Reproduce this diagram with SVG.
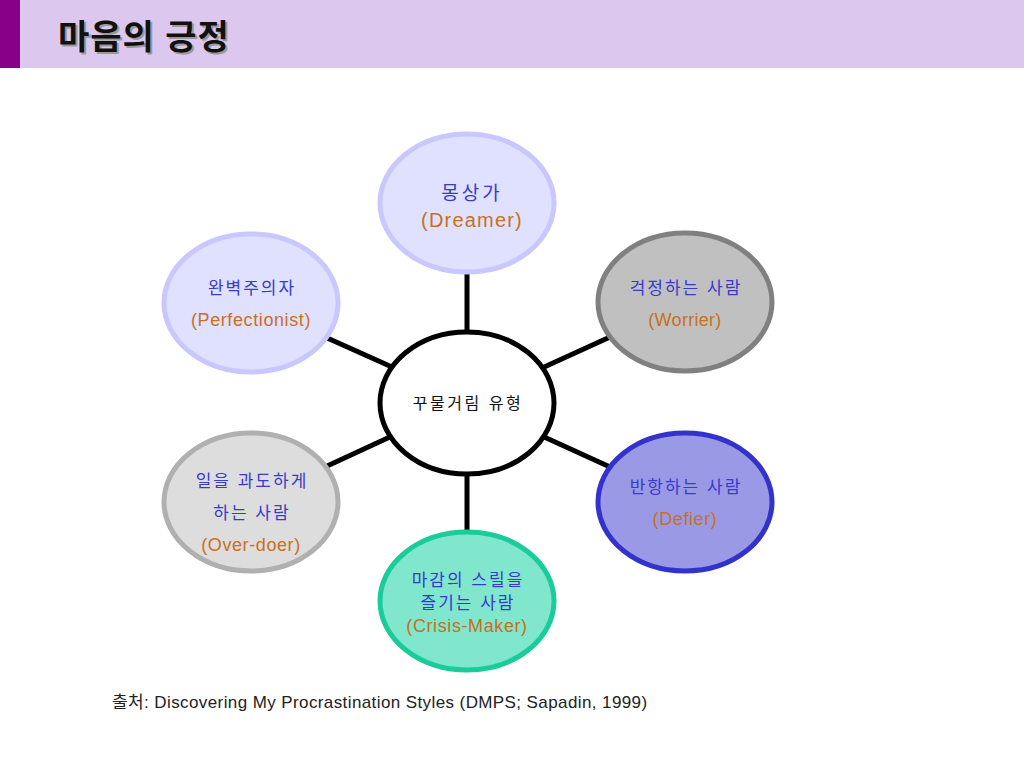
<svg xmlns="http://www.w3.org/2000/svg" width="1024" height="768" viewBox="0 0 1024 768">
<defs>
<style>
.kr{font-family:"Liberation Sans","Noto Sans CJK KR",sans-serif;}
.node ellipse{stroke-width:5;}
.ko{fill:#3A3ACC;font-size:17px;text-anchor:middle;letter-spacing:2px;}
.en{fill:#C8701E;font-size:18px;text-anchor:middle;letter-spacing:0.6px;}
.conn line{stroke:#000;stroke-width:5;}
</style>
</defs>
<rect x="0" y="0" width="1024" height="768" fill="#FFFFFF"/>
<rect x="0" y="0" width="1024" height="68" fill="#DCC8EE"/>
<rect x="0" y="0" width="20" height="68" fill="#880088"/>
<text class="kr" x="60" y="51" font-size="34" font-weight="bold" letter-spacing="1" fill="#999999">마음의 긍정</text>
<text class="kr" x="58" y="49" font-size="34" font-weight="bold" letter-spacing="1" fill="#111111">마음의 긍정</text>

<g id="connectors" class="conn">
<line x1="467" y1="270" x2="467" y2="333"/>
<line x1="467" y1="467" x2="467" y2="532"/>
<line x1="325" y1="337" x2="392" y2="367"/>
<line x1="610" y1="337" x2="542" y2="368"/>
<line x1="325" y1="467" x2="392" y2="436"/>
<line x1="610" y1="467" x2="542" y2="436"/>
</g>

<g id="center" class="node">
<ellipse cx="467" cy="403" rx="87" ry="71" fill="#FFFFFF" stroke="#000000"/>
<text class="kr" x="468" y="409" font-size="16" letter-spacing="2.5" text-anchor="middle" fill="#111111">꾸물거림 유형</text>
</g>

<g id="dreamer" class="node">
<ellipse cx="467" cy="203" rx="87" ry="69" fill="#E0E0FF" stroke="#C8C8FF"/>
<text class="kr ko" x="472" y="200" style="font-size:19px;letter-spacing:3px">몽상가</text>
<text class="kr en" x="472" y="227" style="font-size:20px;letter-spacing:1.2px">(Dreamer)</text>
</g>

<g id="perfectionist" class="node">
<ellipse cx="251" cy="303" rx="87" ry="69" fill="#E0E0FF" stroke="#C8C8FF"/>
<text class="kr ko" x="252" y="294">완벽주의자</text>
<text class="kr en" x="251" y="326">(Perfectionist)</text>
</g>

<g id="worrier" class="node">
<ellipse cx="685" cy="302" rx="87" ry="69" fill="#C0C0C0" stroke="#808080" stroke-width="6"/>
<text class="kr ko" x="686" y="294">걱정하는 사람</text>
<text class="kr en" x="685" y="326" style="letter-spacing:0.3px">(Worrier)</text>
</g>

<g id="defier" class="node">
<ellipse cx="685" cy="502" rx="87" ry="69" fill="#9999E6" stroke="#3333CC" stroke-width="6"/>
<text class="kr ko" x="686" y="493">반항하는 사람</text>
<text class="kr en" x="685" y="525">(Defier)</text>
</g>

<g id="overdoer" class="node">
<ellipse cx="251" cy="502" rx="87" ry="69" fill="#DDDDDD" stroke="#B0B0B0" stroke-width="6"/>
<text class="kr ko" x="252" y="487">일을 과도하게</text>
<text class="kr ko" x="252" y="519">하는 사람</text>
<text class="kr en" x="251" y="551">(Over-doer)</text>
</g>

<g id="crisismaker" class="node">
<ellipse cx="467" cy="601" rx="87" ry="69" fill="#80E6CC" stroke="#1ACC99" stroke-width="6"/>
<text class="kr ko" x="468" y="586">마감의 스릴을</text>
<text class="kr ko" x="468" y="609">즐기는 사람</text>
<text class="kr en" x="467" y="632">(Crisis-Maker)</text>
</g>

<text class="kr" x="112" y="708" font-size="17" letter-spacing="0.4" fill="#222222">출처: Discovering My Procrastination Styles (DMPS; Sapadin, 1999)</text>
</svg>
